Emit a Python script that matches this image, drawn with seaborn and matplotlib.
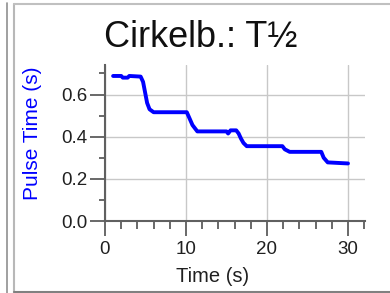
import numpy as np
import pandas as pd
import matplotlib
matplotlib.use("Agg")
import matplotlib.pyplot as plt
import seaborn as sns
from matplotlib.lines import Line2D
from matplotlib.ticker import MultipleLocator

# pulse time (step-like curve)
time_s = [1.0, 2.0, 2.2, 2.8, 3.0, 4.4, 4.7, 4.9, 5.2, 5.5, 6.0,
          10.1, 10.4, 10.8, 11.4, 15.0, 15.2, 15.5, 16.2, 16.5, 16.8,
          17.1, 17.5, 21.9, 22.2, 22.8, 26.7, 27.0, 27.5, 30.0]
pulse_s = [0.688, 0.688, 0.680, 0.680, 0.688, 0.685, 0.660, 0.620, 0.560, 0.530, 0.516,
           0.516, 0.490, 0.455, 0.425, 0.425, 0.415, 0.430, 0.430, 0.415, 0.390,
           0.370, 0.355, 0.355, 0.340, 0.328, 0.328, 0.300, 0.278, 0.273]

df = pd.DataFrame({"Time": time_s, "Pulse": pulse_s})

sns.set_style("white")
plt.rcParams['font.family'] = ['Liberation Sans', 'DejaVu Sans']

fig = plt.figure(figsize=(3.9, 2.93), dpi=100)
ax = fig.add_axes([105/390, 1 - 221/293, 260/390, 156/293])

sns.lineplot(data=df, x="Time", y="Pulse", ax=ax, color="#0000ff", linewidth=2.8,
             estimator=None, sort=False)

ax.set_xlim(0, 32.1)
ax.set_ylim(0, 0.74)
ax.xaxis.set_major_locator(MultipleLocator(10))
ax.xaxis.set_minor_locator(MultipleLocator(2))
ax.yaxis.set_major_locator(MultipleLocator(0.2))
ax.yaxis.set_minor_locator(MultipleLocator(0.1))
ax.yaxis.set_major_formatter(matplotlib.ticker.FormatStrFormatter("%.1f"))

ax.grid(True, which="major", color="#c8c8c8", linewidth=1.0)
ax.set_axisbelow(True)
for side in ["top", "right"]:
    ax.spines[side].set_visible(False)
for side in ["left", "bottom"]:
    ax.spines[side].set_color("#606060")
    ax.spines[side].set_linewidth(1.5)

ax.tick_params(axis="both", which="both", bottom=True, left=True)
ax.tick_params(axis="both", which="major", direction="out", length=10.5, width=1.1,
               color="#404040", labelsize=13.5, labelcolor="#202020", pad=2)
ax.tick_params(axis="both", which="minor", direction="out", length=4.5, width=1.1,
               color="#404040")
ax.tick_params(axis="x", which="major", pad=4)
ax.tick_params(axis="x", which="minor", length=5.5)

ax.set_xlabel("")
ax.set_ylabel("")
fig.text(213/390, 1 - 277/293, "Time (s)", ha="center", va="center", fontsize=14.5,
         color="#202020")
fig.text(33/390, 1 - 133/293, "Pulse Time (s)", ha="center", va="center", fontsize=15,
         color="#0000ff", rotation=90)
fig.text(201/390, 1 - 38/293, "Cirkelb.: T\u00bd", ha="center", va="center", fontsize=26,
         color="#101010")

# panel frame lines
fig.add_artist(Line2D([7/390, 7/390], [0, 1 - 3/293], color="#909090", linewidth=1.2))
fig.add_artist(Line2D([13.5/390, 13.5/390], [0, 1 - 3.5/293], color="#b8b8b8", linewidth=1.5))
fig.add_artist(Line2D([13.5/390, 1], [1 - 3.5/293, 1 - 3.5/293], color="#c0c0c0", linewidth=1.5))
fig.add_artist(Line2D([13.5/390, 1], [1 - 291.5/293, 1 - 291.5/293], color="#808080", linewidth=1.5))

fig.savefig("out.png", dpi=100)
